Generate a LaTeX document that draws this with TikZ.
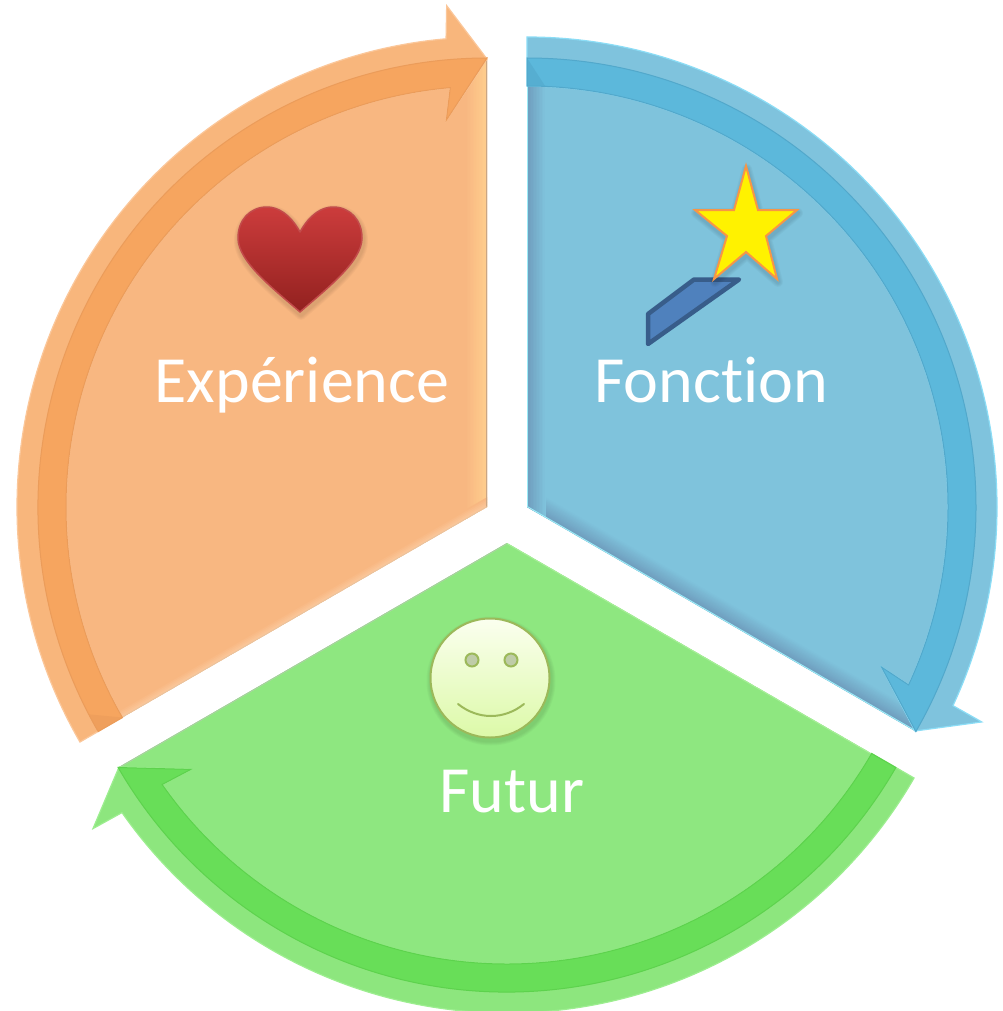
\documentclass[tikz,border=0pt]{standalone}
\usepackage{fontspec}
\setmainfont[Ligatures=NoCommon]{Carlito}
\usetikzlibrary{calc}
% colours
\definecolor{orsec}{HTML}{F8B781}\definecolor{orring}{HTML}{F8B67C}\definecolor{orband}{HTML}{F6A55F}
\definecolor{orringedge}{HTML}{FBC79A}\definecolor{orbandedge}{HTML}{EB9C5A}
\definecolor{blsec}{HTML}{7FC3DC}\definecolor{blring}{HTML}{7FC3DD}\definecolor{blband}{HTML}{5CB8DB}
\definecolor{blringedge}{HTML}{8CDDF6}\definecolor{blbandedge}{HTML}{52A8CB}
\definecolor{grsec}{HTML}{8EE780}\definecolor{grring}{HTML}{8DE67E}\definecolor{grband}{HTML}{68DE58}
\definecolor{grringedge}{HTML}{9DEE90}\definecolor{grbandedge}{HTML}{5DD24D}
\definecolor{wandfill}{HTML}{4F81BD}\definecolor{wandline}{HTML}{385D8A}
\definecolor{starline}{HTML}{F79646}\definecolor{smiley}{HTML}{9CB95A}
\definecolor{eye}{HTML}{BFCCA8}
\definecolor{orbev}{HTML}{FFCE8E}\definecolor{orbevb}{HTML}{FBC89C}\definecolor{orline}{HTML}{C9A685}\definecolor{orlineb}{HTML}{E9C39E}
\definecolor{blbev}{HTML}{6F9DBD}\definecolor{blline}{HTML}{9BEBF7}
\definecolor{grbev}{HTML}{A6EE98}\definecolor{grline}{HTML}{A9C8A2}
\definecolor{hearttop}{HTML}{CC3C3C}\definecolor{heartmid}{HTML}{BC3535}\definecolor{heartbot}{HTML}{92211F}\definecolor{heartline}{HTML}{C34B4B}
\definecolor{smiletop}{HTML}{FBFFEF}\definecolor{smilebot}{HTML}{DCF9A8}
\tikzset{
  label text/.style={text=white,font=\fontsize{66}{66}\selectfont,anchor=base,inner sep=0pt},
  wand/.style={fill=wandfill,draw=wandline,line width=4.5pt,line join=round},
  stardraw/.style={fill=yellow,draw=starline,line width=2pt,line join=miter},
  smileline/.style={draw=smiley,line width=2pt},
}
% #1 prefix, #2 start, #3 neck, #4 tip, #5 outer barb, #6 inner barb
\newcommand\SectorFill[4]{\fill[#1sec] (0,0) -- (#2:421) arc[start angle=#2,end angle=#3,radius=421] -- (#4:449) -- cycle;}
\newcommand\RingArrow[6]{%
  \filldraw[fill=#1ring,draw=#1ringedge,line width=1.2pt,line join=miter]
    (#2:470) arc[start angle=#2,end angle=#3,radius=470] -- (#5:503) -- (#4:448) -- (#6:389) -- (#3:421)
    arc[start angle=#3,end angle=#2,radius=421] -- cycle;
  \filldraw[fill=#1band,draw=#1bandedge,line width=1pt,line join=miter]
    (#2:449) arc[start angle=#2,end angle=#4,radius=449] -- (#6:389) -- (#3:421)
    arc[start angle=#3,end angle=#2,radius=421] -- cycle;
}
% #1 A #2 B #3 side #4 edge colour #5 base colour #6 steps
\newcommand\Bevel[6]{%
  \foreach \i in {#6,...,0}{%
    \pgfmathsetmacro\dd{\i*1.5}
    \pgfmathtruncatemacro\pp{100-100*\i/#6}
    \draw[line width=2pt,color=#4!\pp!#5]
      ($($(#1)!-40pt!(#2)$)!\dd pt!#3:(#2)$) -- ($(#2)!\dd pt!-#3:(#1)$);
  }%
}
\newcommand\SoftShadow[1]{%
  \foreach \w in {10,8,6,4}{%
    \draw[black,opacity=.028,line width=\w pt,line join=round,shift={(1,3)}] #1;
  }%
}
\newcommand\HeartPath{(300,232) .. controls (310,214) and (322,207) .. (333,207) .. controls (350,207) and (362,220) .. (362,238) .. controls (362,262) and (325,290) .. (300,312) .. controls (275,290) and (238,262) .. (238,238) .. controls (238,220) and (250,207) .. (267,207) .. controls (278,207) and (290,214) .. (300,232) -- cycle}
\newcommand\StarPath{(746,166) -- (758,210) -- (797,210) -- (766,236) -- (777,279) -- (746,252) -- (714,279) -- (727,236) -- (695,210) -- (734,210) -- cycle}
\begin{document}
\begin{tikzpicture}[x=1pt,y=-1pt]
\useasboundingbox (0,0) rectangle (1002,1011);
\fill[white] (0,0) rectangle (1002,1011);

% ---------- orange sector
\begin{scope}[shift={(487,507)}]
  \coordinate (oV) at (0,0); \coordinate (oA) at (150:421); \coordinate (oT) at (270:448);
  \begin{scope}
    \clip (0,0) -- (150:421) arc[start angle=150,end angle=265,radius=421] -- (270:448) -- cycle;
    \SectorFill{or}{150}{265}{270}
    \Bevel{oV}{oT}{90}{orbev}{orsec}{14}
    \Bevel{oV}{oA}{-90}{orbevb}{orsec}{5}
    \draw[line width=2pt,color=orline] (oV) -- (oT);
    \draw[line width=1.5pt,color=orlineb] (oV) -- (oA);
  \end{scope}
  \RingArrow{or}{150}{265}{270}{265.4}{264}
  \fill[orbandedge,opacity=.6] (150:421) -- (150:449) -- (152.5:449) -- cycle;
\end{scope}

% ---------- blue sector
\begin{scope}[shift={(527,507)}]
  \coordinate (bV) at (0,0); \coordinate (bA) at (-90:421); \coordinate (bT) at (30:450);
  \begin{scope}
    \clip (0,0) -- (-90:421) arc[start angle=-90,end angle=25,radius=421] -- (30:450) -- cycle;
    \SectorFill{bl}{-90}{25}{30}
    \Bevel{bV}{bT}{90}{blbev}{blsec}{12}
    \Bevel{bV}{bA}{-90}{blbev}{blsec}{12}
    \draw[line width=2pt,color=blline] (bV) -- (bA);
    \draw[line width=2pt,color=blline] (bV) -- (bT);
  \end{scope}
  \RingArrow{bl}{-90}{25}{30}{25.3}{24.3}
  \fill[blbandedge,opacity=.6] (-90:449) -- (-90:421) -- (-87.5:421) -- cycle;
\end{scope}

% ---------- green sector
\begin{scope}[shift={(507,543)}]
  \coordinate (gV) at (0,0); \coordinate (gA) at (30:421); \coordinate (gT) at (150:448);
  \begin{scope}
    \clip (0,0) -- (30:421) arc[start angle=30,end angle=145,radius=421] -- (150:448) -- cycle;
    \SectorFill{gr}{30}{145}{150}
    \Bevel{gV}{gT}{-90}{grbev}{grsec}{12}
    \Bevel{gV}{gA}{90}{grbev}{grsec}{6}
    \draw[line width=1.5pt,color=grline] (gV) -- (gT);
    \draw[line width=1pt,color=grbev] (gV) -- (gA);
  \end{scope}
  \RingArrow{gr}{30}{145}{150}{145.4}{144.4}
\end{scope}

% ---------- heart
\SoftShadow{\HeartPath}
\shade[top color=hearttop,middle color=heartmid,bottom color=heartbot,draw=heartline,line width=1.5pt,line join=round] \HeartPath;

% ---------- wand and star
\draw[wand] (694,279.5) -- (739,279.5) -- (648,344) -- (648,314) -- cycle;
\SoftShadow{\StarPath}
\draw[stardraw] \StarPath;

% ---------- smiley
\SoftShadow{(490,678) circle[radius=59.5]}
\shade[top color=smiletop,bottom color=smilebot,smileline] (490,678) circle[radius=59.5];
\filldraw[fill=eye,smileline] (472,660) circle[radius=6.5];
\filldraw[fill=eye,smileline] (511,660) circle[radius=6.5];
\draw[smileline,line cap=round] (458,704) .. controls (478,720) and (504,720) .. (524,704);

% ---------- labels
\node[label text] (exp) at (302,402) {Expérience};
\node[label text] (fon) at (711,402) {Fonction};
\node[label text] (fut) at (512,812) {Futur};
\end{tikzpicture}
\end{document}
